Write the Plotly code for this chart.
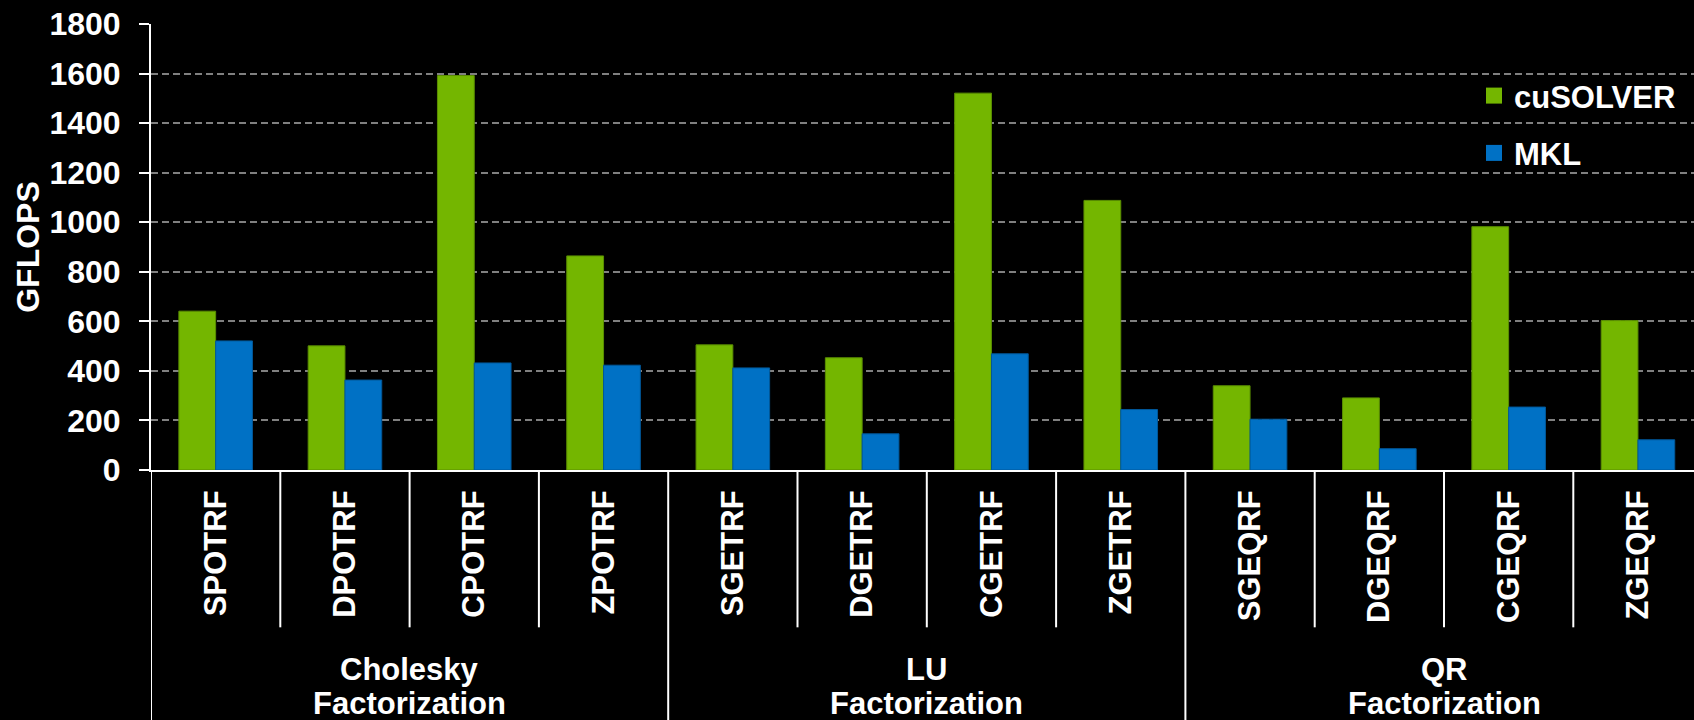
import plotly.graph_objects as go

categories = ["SPOTRF", "DPOTRF", "CPOTRF", "ZPOTRF",
              "SGETRF", "DGETRF", "CGETRF", "ZGETRF",
              "SGEQRF", "DGEQRF", "CGEQRF", "ZGEQRF"]
group_line1 = ["Cholesky", "LU", "QR"]
group_line2 = ["Factorization", "Factorization", "Factorization"]
group_size = 4
cusolver = [641, 501, 1592, 864, 505, 453, 1521, 1088, 340, 291, 982, 603]
mkl = [521, 363, 432, 423, 412, 146, 469, 244, 205, 86, 254, 122]
y_ticks = [0, 200, 400, 600, 800, 1000, 1200, 1400, 1600, 1800]

GREEN = "#74b600"
BLUE = "#0071c5"
FONT = "Liberation Sans, Arial, sans-serif"

W, H = 1694, 720
L, T = 151, 24
B_PX = 470.5            # plot bottom (pixel)
PLOT_H = B_PX - T
CAT_W = 129.3
n_vis = (W - L) / CAT_W

def py(px):  # pixel y -> paper y
    return (B_PX - px) / PLOT_H

fig = go.Figure()
fig.add_trace(go.Bar(x=categories, y=cusolver, name="cuSOLVER", showlegend=False,
                     marker=dict(color=GREEN, line=dict(color="#5a8e00", width=1))))
fig.add_trace(go.Bar(x=categories, y=mkl, name="MKL", showlegend=False,
                     marker=dict(color=BLUE, line=dict(color="#00589a", width=1))))
# legend entries
for name, col in [("cuSOLVER", GREEN), ("MKL", BLUE)]:
    fig.add_trace(go.Scatter(x=[None], y=[None], mode="markers", name=name,
                             legendgroup=name,
                             marker=dict(symbol="square", size=16, color=col)))

shapes = []
for i in range(len(categories) + 1):
    xpos = i - 0.5
    if i % group_size == 0:
        y1 = py(H + 5)
    else:
        y1 = py(628)
    shapes.append(dict(type="line", xref="x", yref="paper", x0=xpos, x1=xpos,
                       y0=0, y1=y1, line=dict(color="white", width=2)))

annotations = []
for g in range(len(group_line1)):
    xc = g * group_size + (group_size - 1) / 2
    for txt, ypx in [(group_line1[g], 670), (group_line2[g], 704)]:
        annotations.append(dict(text=txt, xref="x", yref="paper",
                                x=xc, y=py(ypx),
                                xanchor="center", yanchor="middle", showarrow=False,
                                font=dict(family=FONT, size=31, color="white", weight="bold")))

fig.update_layout(
    width=W, height=H,
    margin=dict(l=L, r=0, t=T, b=H - B_PX, pad=0),
    paper_bgcolor="black", plot_bgcolor="black",
    barmode="group", bargap=0.431, bargroupgap=0,
    font=dict(family=FONT, size=31, color="white", weight="bold"),
    shapes=shapes, annotations=annotations,
    legend=dict(x=(1474 - L) / (W - L), y=py(69), xanchor="left", yanchor="top",
                bgcolor="rgba(0,0,0,0)", traceorder="grouped", tracegroupgap=14,
                font=dict(family=FONT, size=31, color="white", weight="bold")),
    xaxis=dict(range=[-0.5, -0.5 + n_vis], tickangle=-90, showline=True,
               linecolor="white", linewidth=2, ticks="", showgrid=False,
               ticklabelstandoff=6,
               tickfont=dict(family=FONT, size=31, color="white", weight="bold")),
    yaxis=dict(range=[0, 1800], tickvals=y_ticks, showline=True, linecolor="white",
               linewidth=2, ticks="outside", ticklen=10, tickwidth=2, tickcolor="white",
               showgrid=True, gridcolor="#808080", gridwidth=2, griddash="7px,4px",
               zeroline=False, ticklabelstandoff=12,
               tickfont=dict(family=FONT, size=32, color="white", weight="bold")),
)
fig.update_yaxes(title=dict(text="GFLOPS", standoff=0,
                            font=dict(family=FONT, size=32, color="white", weight="bold")))

fig.write_html("out.html")
